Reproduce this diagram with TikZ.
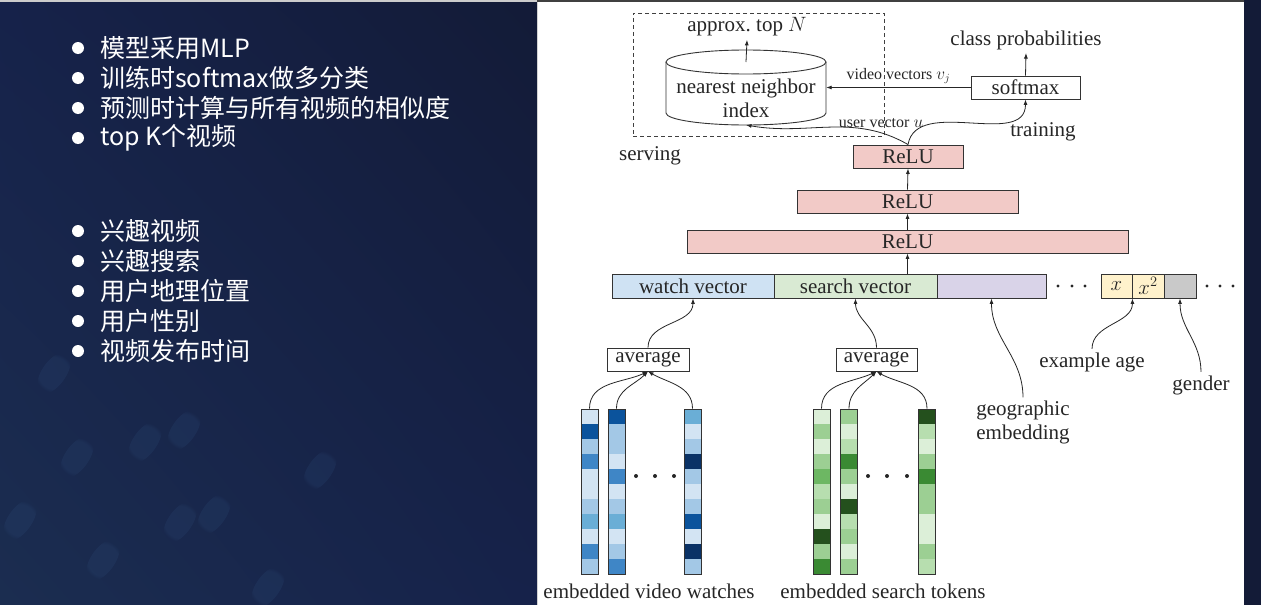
\documentclass[tikz,border=0pt]{standalone}
\usepackage{fontspec}
\setmainfont{Liberation Serif}
\newfontfamily\cjk{Noto Sans CJK SC}
\usetikzlibrary{calc, positioning, arrows.meta, fadings, shadings}

\definecolor{bgdark}{HTML}{131B37}
\definecolor{bgmid}{HTML}{16224A}
\definecolor{bglight}{HTML}{1B2D50}
\definecolor{blob}{HTML}{35598A}
\definecolor{relu}{HTML}{F2CAC7}
\definecolor{watch}{HTML}{CFE2F3}
\definecolor{search}{HTML}{D9EAD3}
\definecolor{geo}{HTML}{D9D3E8}
\definecolor{age}{HTML}{FFF2CC}
\definecolor{gend}{HTML}{C9C9C9}
\definecolor{b1}{HTML}{D3E4F3}
\definecolor{b2}{HTML}{A3C8E6}
\definecolor{b3}{HTML}{6AAED6}
\definecolor{b4}{HTML}{3F86C6}
\definecolor{b5}{HTML}{0B539C}
\definecolor{b6}{HTML}{0A3266}
\definecolor{g1}{HTML}{DCEFD8}
\definecolor{g2}{HTML}{B7DEAF}
\definecolor{g3}{HTML}{9CCF93}
\definecolor{g4}{HTML}{6DB763}
\definecolor{g5}{HTML}{3A8A33}
\definecolor{g6}{HTML}{24501D}

\newcommand{\embcol}[3]{%
  \foreach \c [count=\i from 0] in {#3}
    \fill[\c] ({#2-8.5},{-409-15*\i}) rectangle ++(17,-15);
  \node[col] (#1) at (#2,-491.5) {};
}

\begin{document}
\begin{tikzpicture}[x=1pt, y=1pt, >={Latex[length=5.5pt,width=4pt]},
    font=\fontsize{21}{24}\selectfont, text=black!85,
    box/.style={draw=black!80, line width=0.9pt, inner sep=0pt, minimum height=23},
    lbl/.style={font=\fontsize{16}{19}\selectfont},
    col/.style={draw=black!80, line width=0.9pt, minimum width=17, minimum height=165, inner sep=0pt},
    conn/.style={->, line width=0.8pt, draw=black!85},
    bul/.style={anchor=west, text=white, font=\cjk\fontsize{25}{30}\selectfont, inner sep=0pt}]
  \useasboundingbox (0,0) rectangle (1261,-605);

  \shade[upper left=bgmid, upper right=bgdark, lower left=bglight, lower right=bgmid] (0,0) rectangle (537,-605);
  \foreach \x/\y in {54/373, 77/457, 145/442, 184/430, 103/560, 214/514, 180/522, 268/587, 20/520, 320/470}
    \fill[blob, rotate around={-35:(\x,-\y)}, path fading=circle with fuzzy edge 20 percent, fill opacity=0.16] (\x,-\y) ellipse (12 and 24);
  \fill[bgdark] (1244,0) rectangle (1261,-605);
  \fill[gray!40] (0,0) rectangle (537,-1.5);
  \fill[black!75] (537,0) rectangle (1244,-2);
  \fill[white] (537,-2) rectangle (1244,-605);
  \draw[gray!35, line width=1pt] (537.5,-2) -- (537.5,-605);

  \foreach \t [count=\i from 0] in {模型采用MLP, 训练时softmax做多分类, 预测时计算与所有视频的相似度, top K个视频} {
    \fill[white] (78,{-48-30*\i}) circle (6);
    \node[bul] (p\i) at (100,{-48-30*\i}) {\t};
  }
  \foreach \t [count=\i from 0] in {兴趣视频, 兴趣搜索, 用户地理位置, 用户性别, 视频发布时间} {
    \fill[white] (78,{-231-30*\i}) circle (6);
    \node[bul] (q\i) at (100,{-231-30*\i}) {\t};
  }

  \node[draw=black!75, dashed, dash pattern=on 4pt off 3pt, line width=0.8pt, minimum width=251, minimum height=123] (srv) at (758.5,-74.5) {};
  \node (top) at (747,-27) {approx.\ top $N$};
  \draw[line width=0.9pt, draw=black!80] (666,-62) -- (666,-113) arc[start angle=180, end angle=360, x radius=80, y radius=12] -- (826,-62);
  \draw[line width=0.9pt, draw=black!80] (746,-62) ellipse (80 and 12);
  \coordinate (nnt) at (746,-62);
  \coordinate (nnb) at (746,-125);
  \node[minimum width=160, inner sep=0pt, align=center] (nn) at (746,-98) {nearest neighbor\\index};
  \node (srvl) at (650,-156) {serving};
  \node (cp) at (1026,-40) {class probabilities};
  \node[box, minimum width=109] (sm) at (1025.5,-87.5) {softmax};
  \node (tr) at (1043,-132) {training};
  \node[lbl] (uv) at (881,-123) {user vector $u$};

  \node[box, fill=relu, minimum width=110] (r1) at (908,-156.5) {ReLU};
  \node[box, fill=relu, minimum width=221] (r2) at (907.5,-201.5) {ReLU};
  \node[box, fill=relu, minimum width=441] (r3) at (907.5,-241.5) {ReLU};

  \node[box, fill=watch, minimum width=162, minimum height=24] (wv) at (693,-286) {watch vector};
  \node[box, fill=search, minimum width=163, minimum height=24] (sv) at (855.5,-286) {search vector};
  \node[box, fill=geo, minimum width=109, minimum height=24] (geo) at (991.5,-286) {};
  \node[box, fill=age, minimum width=31, minimum height=24] (ax) at (1116.5,-286) {$x$};
  \node[box, fill=age, minimum width=32, minimum height=24] (ax2) at (1148,-286) {$x^2$};
  \node[box, fill=gend, minimum width=32, minimum height=24] (gen) at (1180,-286) {};
  \foreach \x in {1058,1072,1085,1207,1220,1233}
    \fill[black!85] (\x,-286) circle (1.7);

  \node[align=left] (geol) at (1023,-422.5) {geographic\\embedding};
  \node (agel) at (1092,-362) {example age};
  \node (genl) at (1201,-385) {gender};

  \node[box, minimum width=82] (avg1) at (648,-359.5) {average};
  \node[box, minimum width=81] (avg2) at (876.5,-359.5) {average};

  \embcol{w1}{589.5}{b1,b5,b2,b4,b1,b1,b2,b3,b1,b4,b2}
  \embcol{w2}{616.5}{b5,b2,b2,b1,b4,b1,b2,b3,b1,b2,b4}
  \embcol{w3}{692.5}{b3,b1,b2,b6,b2,b1,b2,b5,b1,b6,b2}
  \embcol{s1}{821.5}{g1,g3,g1,g3,g4,g2,g3,g1,g6,g3,g5}
  \embcol{s2}{849}{g3,g1,g2,g5,g3,g1,g6,g2,g3,g1,g3}
  \embcol{s3}{927}{g6,g2,g1,g3,g5,g3,g3,g1,g1,g3,g2}
  \foreach \x in {636,655,674,868,887,907}
    \fill[black!85] (\x,-476) circle (2);
  \node (ewl) at (649,-591) {embedded video watches};
  \node (estl) at (883,-591) {embedded search tokens};

  \draw[conn] (nnt) -- (top.south);
  \draw[conn] (sm.north) -- (cp.south);
  \draw[conn] (sm.west) -- node[lbl, above] {video vectors $v_j$} (sm.west -| nn.east);
  \draw[conn] (r1.north) to[out=80, in=-90] (sm.south);
  \draw[conn] (r1.north) to[out=150, in=-10] (nnb);
  \draw[conn] (r2.north) -- (r1.south);
  \draw[conn] (r3.north) -- (r2.south);
  \draw[conn] (r3.south |- sv.north) -- (r3.south);

  \draw[conn] (avg1.north) to[out=90, in=-90] (wv.south);
  \draw[conn] (avg2.north) to[out=90, in=-90] (sv.south);
  \draw[conn] (geol.north) to[out=90, in=-90] (geo.south);
  \draw[conn] (agel.north) to[out=90, in=-90] (ax.south east);
  \draw[conn] (genl.north) to[out=90, in=-90] (gen.south);

  \draw[conn] (w1.north) to[out=90, in=-155] (avg1.south);
  \draw[conn] (w2.north) to[out=90, in=-135] (avg1.south);
  \draw[conn] (w3.north) to[out=90, in=-30] (avg1.south);
  \draw[conn] (s1.north) to[out=90, in=-155] (avg2.south);
  \draw[conn] (s2.north) to[out=90, in=-135] (avg2.south);
  \draw[conn] (s3.north) to[out=90, in=-30] (avg2.south);
\end{tikzpicture}
\end{document}
